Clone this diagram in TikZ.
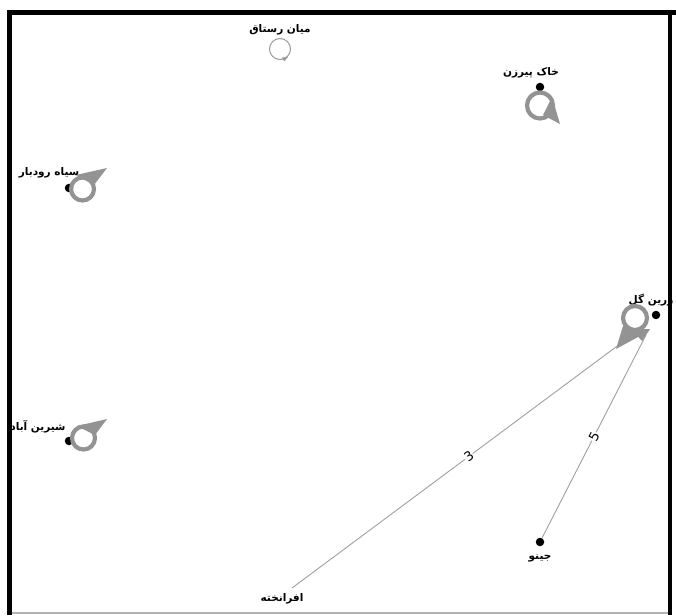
\documentclass[tikz,border=0pt]{standalone}
\usepackage{fontspec}
\TeXXeTstate=1
\newfontfamily\arabicfont[Script=Arabic]{DejaVu Sans}
\usetikzlibrary{calc}
\begin{document}
\begin{tikzpicture}[x=1pt,y=-1pt,
  vert/.style={circle,fill=black,inner sep=0pt,minimum size=8.5pt},
  lbl/.style={font=\arabicfont\bfseries\fontsize{10.5}{12}\selectfont,inner sep=0pt},
  ring/.style={draw=gray!85,line width=4.2pt},
  thinring/.style={draw=gray!80,line width=1pt},
  head/.style={fill=gray!85},
  edge/.style={draw=gray!75,line width=0.9pt},
  elbl/.style={font=\arabicfont\fontsize{13}{14}\selectfont,sloped,fill=white,inner sep=0.5pt}]
\useasboundingbox (0,0) rectangle (676,615);
% frame
\fill[black] (7,10) rectangle (676,15);
\fill[black] (7,10) rectangle (12,615);
\fill[black] (668,10) rectangle (672,615);
\draw[gray!60,line width=1.5pt] (12,613) -- (668,613);
% vertices
\coordinate (mian) at (280,40);
\node[vert] (khak) at (540,87) {};
\node[vert] (siah) at (69,188) {};
\node[vert] (zarin) at (656,315) {};
\node[vert] (shirin) at (69,441) {};
\node[vert] (jino) at (540,542) {};
\coordinate (afra) at (292,588);
% labels
\node[lbl] (lmian) at (280,30) {\beginR میان رستاق\endR};
\node[lbl] (lkhak) at (531,73) {\beginR خاک پیرزن\endR};
\node[lbl] (lsiah) at (49,173) {\beginR سیاه رودبار\endR};
\node[lbl] (lzarin) at (651,300) {\beginR زرین گل\endR};
\node[lbl] (lshirin) at (38,427) {\beginR شیرین آباد\endR};
\node[lbl] (ljino) at (540,558) {\beginR جینو\endR};
\node[lbl] (lafra) at (282,599) {\beginR افرانخته\endR};
% self loops
\draw[thinring] ($(mian)+(0,9)$) circle (10.5);
\fill[gray!80] ($(mian)+(2,17.5)$) -- ($(mian)+(8,17)$) -- ($(mian)+(4,21.5)$) -- cycle;
\draw[ring] ($(khak)+(0,18.5)$) circle (13);
\fill[head] ($(khak)+(12,10)$) -- ($(khak)+(20,37)$) -- ($(khak)+(3,28)$) -- cycle;
\draw[ring] ($(siah)+(13.5,1)$) circle (11.5);
\fill[head] ($(siah)+(7,-13)$) -- ($(siah)+(38,-20)$) -- ($(siah)+(25,-3)$) -- cycle;
\draw[ring] ($(shirin)+(14.5,-3)$) circle (11.5);
\fill[head] ($(shirin)+(8,-15)$) -- ($(shirin)+(38,-22)$) -- ($(shirin)+(26,-6)$) -- cycle;
\draw[ring] ($(zarin)+(-21,3)$) circle (12);
% edges
\draw[edge] (afra) -- node[elbl,pos=0.52] {3} ($(zarin)+(-24,20)$);
\draw[edge] (jino) -- node[elbl,pos=0.5] {5} ($(zarin)+(-10,20)$);
\fill[head] ($(zarin)+(-33,11)$) -- ($(zarin)+(-7,16)$) -- ($(zarin)+(-40,34)$) -- cycle;
\fill[head] ($(zarin)+(-25,14)$) -- ($(zarin)+(-6,14)$) -- ($(zarin)+(-14,26)$) -- cycle;
\end{tikzpicture}
\end{document}
